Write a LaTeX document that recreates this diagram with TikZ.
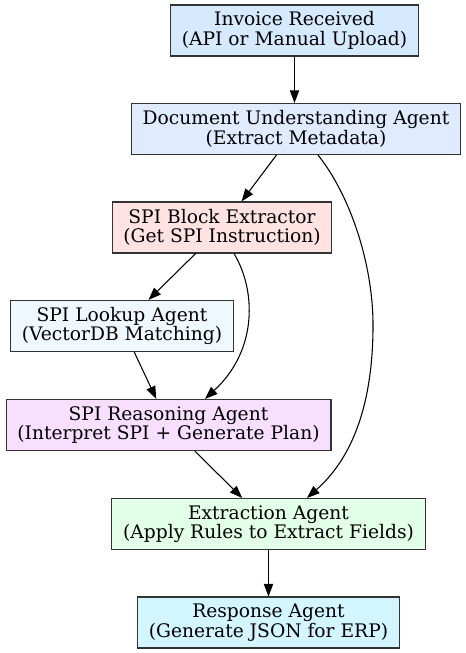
\documentclass[tikz,border=0pt]{standalone}
\usepackage{fontspec}
\setmainfont{DejaVu Serif}
\usepackage{tikz}
\usetikzlibrary{arrows.meta,calc}
\definecolor{invoicefill}{HTML}{D6EAFF}
\definecolor{docfill}{HTML}{E0EBFF}
\definecolor{blockfill}{HTML}{FFE2E2}
\definecolor{lookupfill}{HTML}{EFF7FF}
\definecolor{reasonfill}{HTML}{F8DFFF}
\definecolor{extractfill}{HTML}{E2FFE8}
\definecolor{responsefill}{HTML}{D2F5FF}

\begin{document}
\begin{tikzpicture}[
      x=0.75pt,y=-0.75pt,
      box/.style={rectangle,draw=black!80,line width=0.8pt,minimum height=38.25pt,inner xsep=8.5pt,inner ysep=2pt,align=center,font=\fontsize{14}{14.6}\selectfont},
      ->,>={Triangle[length=9.5pt,width=7pt]},line width=0.8pt,
    ]
    \useasboundingbox (0,0) rectangle (466,653);
    \node[box,fill=invoicefill] (invoice) at (294.5,30.5) {Invoice Received\\(API or Manual Upload)};
    \node[box,fill=docfill] (docagent) at (296,129) {Document Understanding Agent\\(Extract Metadata)};
    \node[box,fill=blockfill] (block) at (222,227.5) {SPI Block Extractor\\(Get SPI Instruction)};
    \node[box,fill=lookupfill] (lookup) at (122,326) {SPI Lookup Agent\\(VectorDB Matching)};
    \node[box,fill=reasonfill] (reason) at (168.5,425) {SPI Reasoning Agent\\(Interpret SPI + Generate Plan)};
    \node[box,fill=extractfill] (extract) at (268.5,524) {Extraction Agent\\(Apply Rules to Extract Fields)};
    \node[box,fill=responsefill] (response) at (268.5,622.5) {Response Agent\\(Generate JSON for ERP)};
    \draw (invoice) -- (invoice |- docagent.north);
    \draw (docagent) -- (block);
    \draw (block) -- (lookup);
    \draw (lookup) -- (reason);
    \draw (reason) -- (extract);
    \draw (extract) -- (response);
    \draw ($(block.south)+(12,0)$) .. controls (256,290) and (258,350) .. ($(reason.north)+(36.5,0)$);
    \draw ($(docagent.south)+(22,0)$) .. controls (350,195) and (374,265) .. (373,330)
      .. controls (372,410) and (350,460) .. ($(extract.north)+(38.5,0)$);
  \end{tikzpicture}
\end{document}
